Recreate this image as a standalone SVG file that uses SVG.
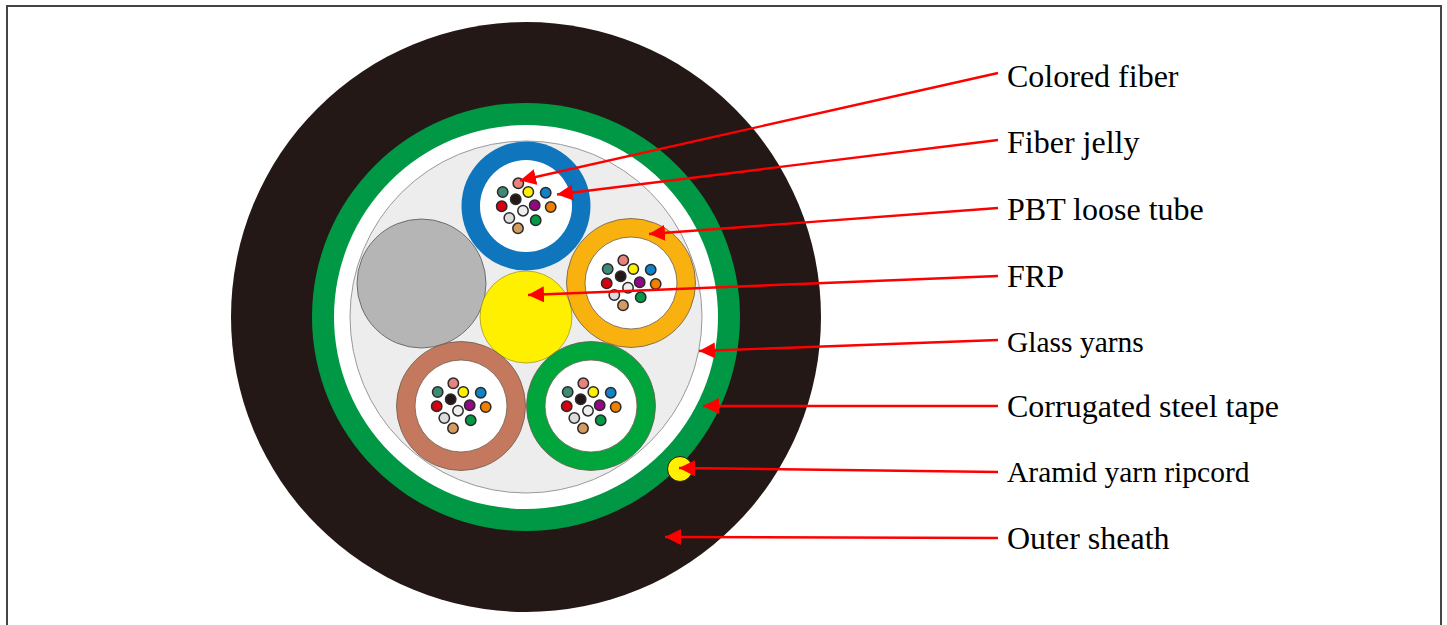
<svg xmlns="http://www.w3.org/2000/svg" xmlns:xlink="http://www.w3.org/1999/xlink" width="1447" height="625" viewBox="0 0 1447 625">
<style>
text{font-family:"Liberation Serif","Times New Roman",serif;font-size:32px;fill:#000}
text.s{font-size:29.500px}
.f{stroke:#2a2a2a;stroke-width:1.500}
.t{stroke:#6b5a4a;stroke-width:.8}
.c{stroke:#f00;stroke-width:2.400;fill:none;marker-end:url(#a)}
</style>
<defs>
<marker id="a" markerUnits="userSpaceOnUse" markerWidth="17" markerHeight="17" refX="16" refY="8" orient="auto"><path d="M16 8L0 0V16Z" fill="#f00"/></marker>
<g id="fibers">
<circle class="f" cx="-7.7" cy="-22.7" r="5.200" fill="#e8827c"/>
<circle class="f" cx="-23.3" cy="-14" r="5.200" fill="#3f8a76"/>
<circle class="f" cx="2.300" cy="-14" r="5.200" fill="#fff000"/>
<circle class="f" cx="19.700" cy="-13.3" r="5.200" fill="#0f82c8"/>
<circle class="f" cx="-10.3" cy="-6.7" r="5.200" fill="#231815"/>
<circle class="f" cx="-24.3" cy=".3" r="5.200" fill="#d7000f"/>
<circle class="f" cx="8.700" cy="-.7" r="5.200" fill="#920783"/>
<circle class="f" cx="24.700" cy="1" r="5.200" fill="#ee7f00"/>
<circle class="f" cx="-3" cy="4.700" r="5.200" fill="#eeeeee"/>
<circle class="f" cx="-16.7" cy="12" r="5.200" fill="#dcdcdc"/>
<circle class="f" cx="9.700" cy="14.300" r="5.200" fill="#009944"/>
<circle class="f" cx="-8" cy="22.300" r="5.200" fill="#d49a5f"/>
</g>
</defs>
<rect width="1447" height="625" fill="#fff"/>
<path id="frame" d="M7 625V6H1441V625" fill="none" stroke="#444" stroke-width="2"/>
<g id="outer-sheath"><circle cx="526" cy="317" r="295" fill="#231815"/></g>
<g id="steel-tape"><circle cx="526" cy="317" r="214" fill="#009844"/></g>
<g id="gap"><circle cx="526" cy="317" r="192" fill="#fff"/></g>
<g id="glass-yarns"><circle cx="526" cy="317" r="176" fill="#ededed" stroke="#999" stroke-width="1"/></g>
<g id="filler"><circle cx="421.500" cy="283.500" r="64.500" fill="#b5b5b6" stroke="#555" stroke-width=".8"/></g>
<g id="frp"><circle cx="526" cy="317" r="46" fill="#fff000" stroke="#8a7a20" stroke-width=".6"/></g>
<g id="tube-blue"><circle cx="526" cy="206" r="64.500" fill="#0f75bc"/><circle cx="526" cy="206" r="46" fill="#fff"/><use xlink:href="#fibers" href="#fibers" x="526" y="206"/></g>
<g id="tube-orange"><circle class="t" cx="631" cy="283" r="64.500" fill="#f8b10f"/><circle class="t" cx="631" cy="283" r="46" fill="#fff"/><use xlink:href="#fibers" href="#fibers" x="631" y="283"/></g>
<g id="tube-brown"><circle class="t" cx="461" cy="406" r="64.500" fill="#c4785e"/><circle class="t" cx="461" cy="406" r="46" fill="#fff"/><use xlink:href="#fibers" href="#fibers" x="461" y="406"/></g>
<g id="tube-green"><circle class="t" cx="591" cy="406" r="64.500" fill="#00a63c"/><circle class="t" cx="591" cy="406" r="46" fill="#fff"/><use xlink:href="#fibers" href="#fibers" x="591" y="406"/></g>
<g id="ripcord"><circle cx="680" cy="469" r="12.500" fill="#fff000" stroke="#231815" stroke-width="1"/></g>
<g id="connectors">
<line class="c" x1="998" y1="73" x2="520" y2="180.500"/>
<line class="c" x1="998" y1="140" x2="557" y2="194.500"/>
<line class="c" x1="998" y1="208" x2="649" y2="234"/>
<line class="c" x1="998" y1="276" x2="528" y2="295"/>
<line class="c" x1="998" y1="340" x2="699" y2="351"/>
<line class="c" x1="998" y1="406" x2="703" y2="406"/>
<line class="c" x1="998" y1="472" x2="679" y2="468"/>
<line class="c" x1="998" y1="538" x2="665" y2="537"/>
</g>
<g id="labels">
<text x="1007" y="87">Colored fiber</text>
<text x="1007" y="153">Fiber jelly</text>
<text x="1007" y="220">PBT loose tube</text>
<text x="1007" y="287" font-size="31">FRP</text>
<text class="s" x="1007" y="352">Glass yarns</text>
<text x="1007" y="417">Corrugated steel tape</text>
<text class="s" x="1007" y="482">Aramid yarn ripcord</text>
<text x="1007" y="549">Outer sheath</text>
</g>
</svg>
